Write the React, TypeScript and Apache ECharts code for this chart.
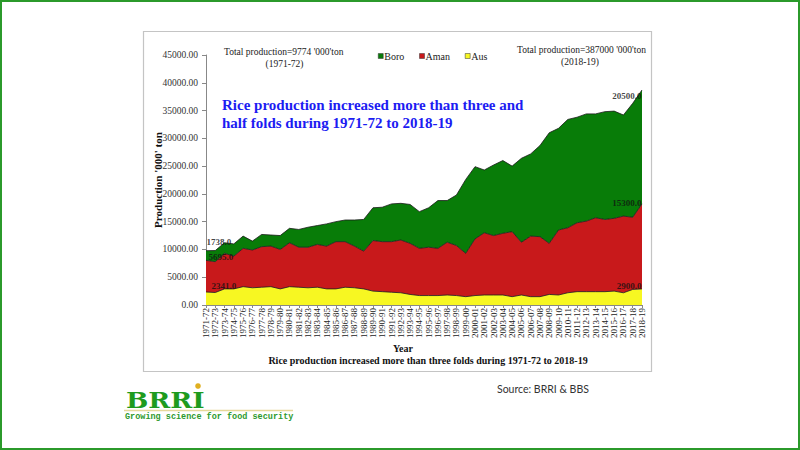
import React, { useEffect, useRef } from "react";
import * as echarts from "echarts";

const categories = [
  "1971-72", "1972-73", "1973-74", "1974-75", "1975-76", "1976-77", "1977-78", "1978-79",
  "1979-80", "1980-81", "1981-82", "1982-83", "1983-84", "1984-85", "1985-86", "1986-87",
  "1987-88", "1988-89", "1989-90", "1990-91", "1991-92", "1992-93", "1993-94", "1994-95",
  "1995-96", "1996-97", "1997-98", "1998-99", "1999-00", "2000-01", "2001-02", "2002-03",
  "2003-04", "2004-05", "2005-06", "2006-07", "2007-08", "2008-09", "2009-10", "2010-11",
  "2011-12", "2012-13", "2013-14", "2014-15", "2015-16", "2016-17", "2017-18", "2018-19",
];

const aus = [
  2341, 2250, 2900, 2900, 3300, 3100, 3200, 3300, 2900, 3300, 3200, 3100, 3200, 2900, 2900, 3200,
  3100, 2900, 2500, 2400, 2300, 2200, 1900, 1700, 1700, 1700, 1800, 1700, 1500, 1700, 1800, 1800,
  1800, 1500, 1800, 1500, 1500, 1900, 1800, 2200, 2400, 2400, 2400, 2400, 2500, 2200, 2800, 2900,
];

const aman = [
  5695, 5550, 6400, 5900, 6900, 6800, 7300, 7300, 7100, 7900, 7200, 7300, 7700, 7700, 8500, 8200,
  7500, 6800, 9100, 9000, 9100, 9500, 9200, 8500, 8700, 8500, 9500, 9000, 7800, 10200, 11200, 10700,
  11100, 11700, 9500, 10900, 10800, 9200, 11700, 11700, 12400, 12700, 13300, 13000, 13100, 13800, 13000, 15300,
];

const boro = [
  1738, 2000, 1900, 2200, 2200, 1600, 2200, 2000, 2500, 2600, 3200, 3600, 3400, 4000, 3600, 3900,
  4700, 5700, 5900, 6200, 6800, 6600, 7000, 6600, 7100, 8600, 7500, 9100, 13300, 13000, 11300, 12700,
  13100, 11800, 15100, 14800, 16400, 19900, 18300, 19500, 19000, 19300, 18700, 19400, 19300, 18200, 20500, 20500,
];

const yTicks = { min: 0, max: 45000, interval: 5000 };

const SERIF = "'Liberation Serif', 'Times New Roman', serif";

export default function App() {
  const ref = useRef<HTMLDivElement>(null);

  useEffect(() => {
    if (!ref.current) return;
    const chart = echarts.init(ref.current, undefined, { renderer: "svg" });
    const last = categories.length - 1;
    const lab = (pos: string, off: number[], dist: number, text: string) => ({
      show: true,
      position: pos,
      distance: dist,
      offset: off,
      formatter: text,
      fontFamily: SERIF,
      fontWeight: "bold",
      fontSize: 9,
      color: "#111",
    });
    const labelPoints = [
      { value: [0, aus[0] + aman[0] + boro[0]], label: lab("right", [0, -9], 0, boro[0].toFixed(1)) },
      { value: [0, aus[0] + aman[0]], label: lab("right", [2, -3], 0, aman[0].toFixed(1)) },
      { value: [0, aus[0]], label: lab("right", [5, -6], 0, aus[0].toFixed(1)) },
      { value: [last, aus[last] + aman[last] + boro[last]], label: lab("left", [0, 6], 0, boro[last].toFixed(1)) },
      { value: [last, aus[last] + aman[last]], label: lab("left", [0, -1], 0, aman[last].toFixed(1)) },
      { value: [last, aus[last]], label: lab("left", [0, -3], 0, aus[last].toFixed(1)) },
    ];
    const areaSeries = (name: string, data: number[], color: string) => ({
      name,
      type: "line",
      stack: "total",
      data,
      showSymbol: false,
      symbol: "none",
      lineStyle: { color: "#1a1a1a", width: 0.8 },
      itemStyle: { color },
      areaStyle: { color, opacity: 1 },
    });
    const txt = (text: string, x: number, y: number, size: number, opts: any = {}) => ({
      type: "text",
      x,
      y,
      silent: true,
      rotation: opts.rotation || 0,
      style: {
        text,
        x: 0,
        y: 0,
        fontSize: size,
        fontFamily: opts.family || SERIF,
        fontWeight: opts.weight || "normal",
        fill: opts.fill || "#222",
        textAlign: opts.align || "left",
        textVerticalAlign: "middle",
      },
      scaleX: opts.scaleX || 1,
    });
    chart.setOption({
      animation: false,
      backgroundColor: "#ffffff",
      grid: { left: 206, right: 158, top: 55, bottom: 145, containLabel: false },
      legend: {
        data: ["Boro", "Aman", "Aus"],
        left: 373,
        top: 46,
        itemWidth: 5,
        itemHeight: 5,
        itemGap: 15,
        icon: "rect",
        itemStyle: { borderColor: "#333", borderWidth: 0.5 },
        textStyle: { fontFamily: SERIF, fontSize: 10, color: "#222", padding: [0, 0, 0, -4] },
      },
      xAxis: {
        type: "category",
        data: categories,
        boundaryGap: false,
        axisLine: { lineStyle: { color: "#888", width: 1 } },
        axisTick: { show: true, length: 3, lineStyle: { color: "#888" } },
        axisLabel: {
          interval: 0,
          rotate: 90,
          margin: 3,
          fontFamily: SERIF,
          fontSize: 9,
          color: "#222",
        },
        splitLine: { show: false },
      },
      yAxis: {
        type: "value",
        min: yTicks.min,
        max: yTicks.max,
        interval: yTicks.interval,
        axisLine: { show: true, lineStyle: { color: "#888", width: 1 } },
        axisTick: { show: true, length: 4, lineStyle: { color: "#888" } },
        axisLabel: {
          margin: 8,
          fontFamily: SERIF,
          fontSize: 9.5,
          color: "#333",
          formatter: (v: number) => v.toFixed(2),
        },
        splitLine: { show: false },
      },
      series: [
        areaSeries("Aus", aus, "#f7f722"),
        areaSeries("Aman", aman, "#c8191b"),
        areaSeries("Boro", boro, "#087c08"),
        {
          name: "labels",
          type: "scatter",
          data: labelPoints,
          symbolSize: 1,
          itemStyle: { color: "transparent" },
          z: 5,
          silent: true,
        },
      ],
      graphic: [
        {
          type: "rect",
          silent: true,
          shape: { x: 1, y: 1, width: 798, height: 448 },
          style: { fill: "none", stroke: "#2b9a2b", lineWidth: 2 },
        },
        {
          type: "rect",
          silent: true,
          shape: { x: 143.5, y: 31.5, width: 508, height: 340 },
          style: { fill: "none", stroke: "#c4c4c4", lineWidth: 1.2 },
        },
        txt("Production '000' ton", 157.5, 180, 11, {
          weight: "bold",
          align: "center",
          fill: "#111",
          rotation: Math.PI / 2,
        }),
        txt("Total production=9774 '000'ton", 224, 52, 9.5),
        txt("(1971-72)", 284.5, 64, 9.5, { align: "center" }),
        txt("Total production=387000 '000'ton", 517, 50, 9.5),
        txt("(2018-19)", 580, 62, 9.5, { align: "center" }),
        txt("Rice production increased more than three and", 222, 105, 15, { weight: "bold", fill: "#1c1cf2" }),
        txt("half folds during 1971-72 to 2018-19", 222, 123, 15, { weight: "bold", fill: "#1c1cf2" }),
        txt("Year", 403, 348, 10, { weight: "bold", align: "center", fill: "#111" }),
        txt("Rice production increased more than three folds during 1971-72 to 2018-19", 428, 360, 10, {
          weight: "bold",
          align: "center",
          fill: "#111",
        }),
        txt("BRRI", 126, 400, 23, {
          weight: "bold",
          family: "'DejaVu Serif', serif",
          fill: "#1e9b1e",
          scaleX: 1.15,
        }),
        {
          type: "circle",
          silent: true,
          shape: { cx: 198, cy: 386, r: 2.8 },
          style: { fill: "#e0b020" },
        },
        {
          type: "line",
          silent: true,
          shape: { x1: 124, y1: 410.5, x2: 293, y2: 410.5 },
          style: { stroke: "#e6d89a", lineWidth: 1.5 },
        },
        txt("Growing science for food security", 125, 416.5, 8.5, {
          weight: "bold",
          family: "'Liberation Mono', 'DejaVu Sans Mono', monospace",
          fill: "#2e9a2e",
        }),
        txt("Source: BRRI & BBS", 497, 389, 10.5, { family: "Lato, 'Open Sans', sans-serif", fill: "#333" }),
      ],
    });
    return () => chart.dispose();
  }, []);

  return (
    <div
      ref={ref}
      style={{ position: "fixed", left: 0, top: 0, width: 800, height: 450, background: "#fff" }}
    />
  );
}
